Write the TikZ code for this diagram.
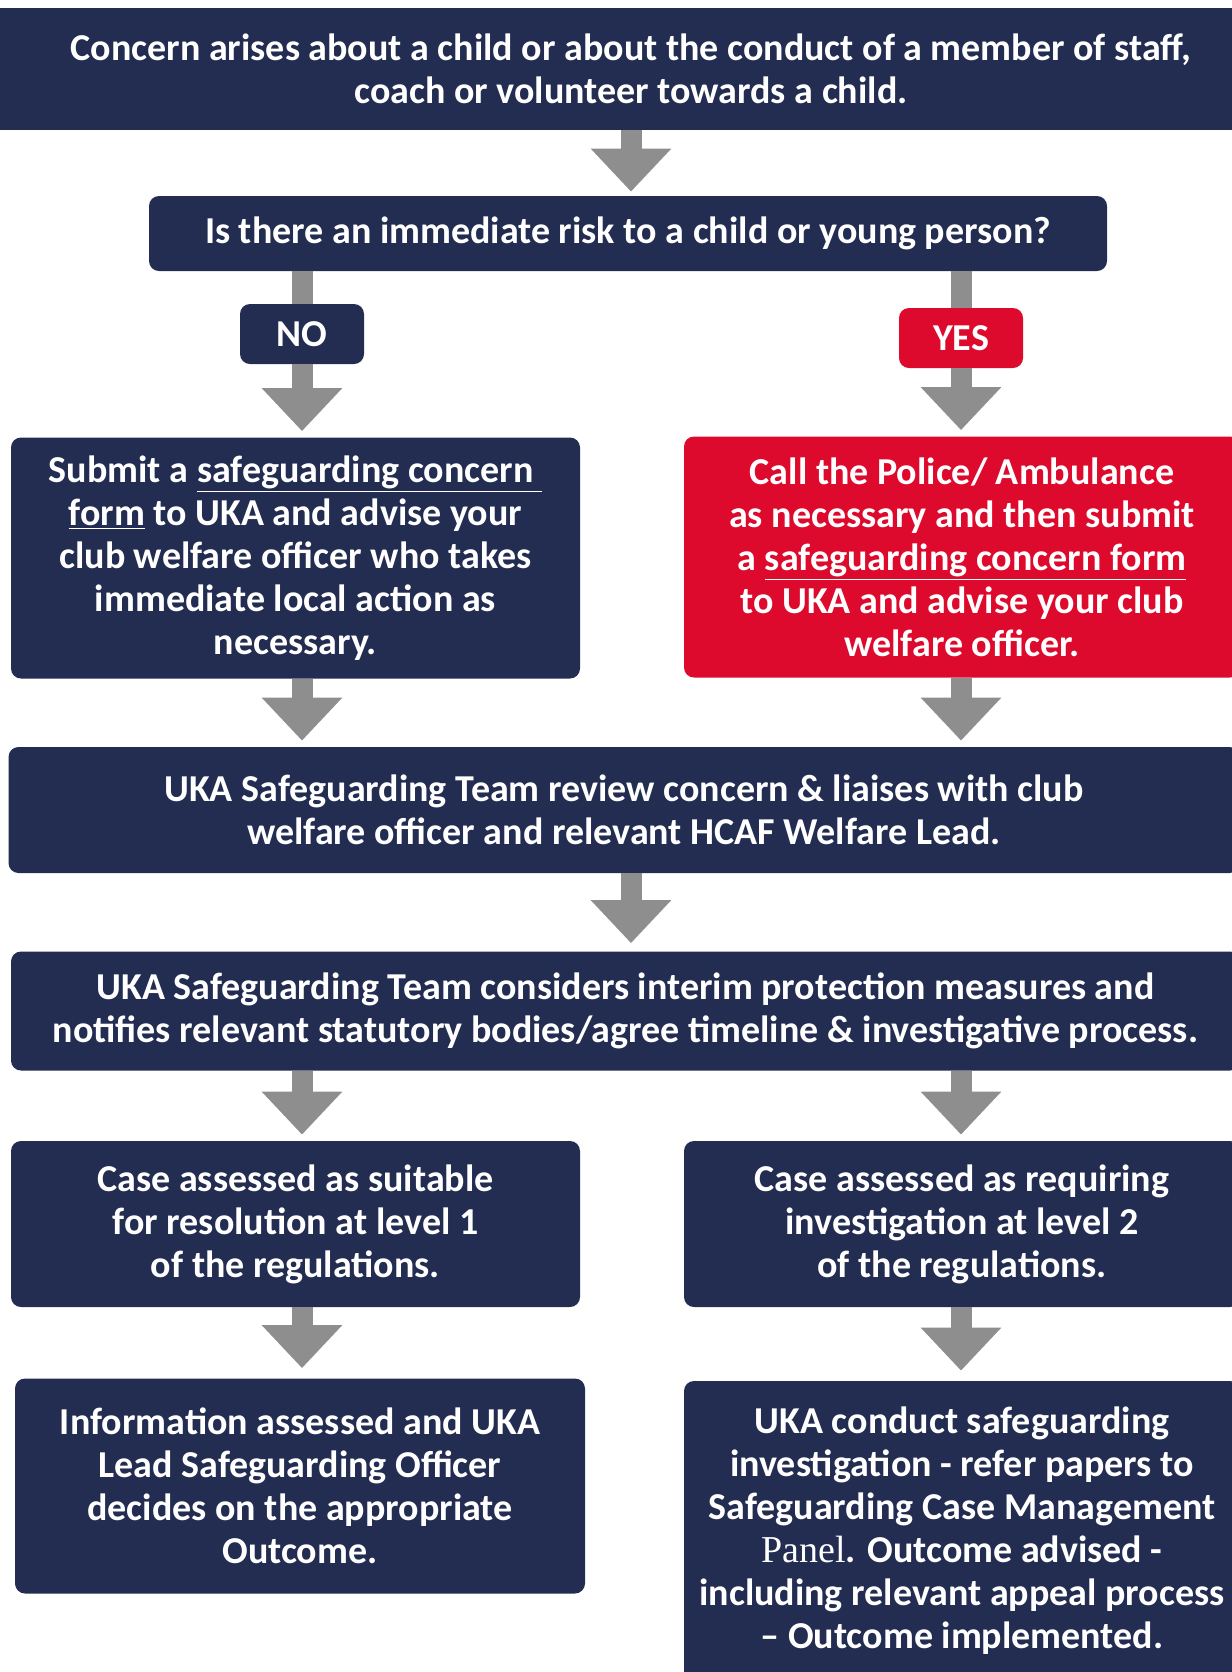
\documentclass[tikz,border=0pt]{standalone}
\usepackage{fontspec}
\setmainfont{Carlito}
\newfontfamily\pnlfont{Liberation Serif}
\usepackage{tikz}
\usetikzlibrary{arrows.meta}

\definecolor{ukanavy}{HTML}{232C51}
\definecolor{ukared}{HTML}{DD0A2D}
\definecolor{arrowgray}{HTML}{8E8E8E}

\begin{document}
\begin{tikzpicture}[x=0.5pt,y=-0.5pt]
            \tikzstyle{every node}+=[inner sep=0pt]
            \tikzstyle{box}=[fill=ukanavy, text=white, rounded corners=5pt, align=center,
                font=\fontsize{19pt}{21.5pt}\selectfont\bfseries]
            \tikzstyle{redbox}=[box, fill=ukared]
            \tikzstyle{shaft}=[draw=arrowgray, line width=10.5pt]
            \tikzstyle{flow}=[shaft, -{Triangle[length=21.5pt,width=39pt]}, shorten >=3pt]
            \useasboundingbox (0,0) rectangle (1232,1672);
            % boxes
            \node [box, sharp corners, minimum width=650pt, minimum height=60.75pt] (top) at (631,69)
                {Concern arises about a child or about the conduct of a member of staff,\\
                 coach or volunteer towards a child.};
            \node [box, minimum width=479pt, minimum height=37.5pt] (q) at (628,233.5)
                {Is there an immediate risk to a child or young person?};
            \node [box, minimum width=62pt, minimum height=30pt] (nolab) at (302,334) {NO};
            \node [redbox, minimum width=62pt, minimum height=30pt] (yeslab) at (961,338) {YES};
            \node [box, minimum width=284.5pt, minimum height=120.5pt] (noact) at (295.5,558)
                {Submit a \underline{safeguarding concern\ }\\
                 \underline{form} to UKA and advise your\\
                 club welfare officer who takes\\
                 immediate local action as\\
                 necessary.};
            \node [redbox, minimum width=278pt, minimum height=120.5pt] (yesact) at (962,557)
                {Call the Police/ Ambulance\\
                 as necessary and then submit\\
                 a \underline{safeguarding concern form}\\
                 to UKA and advise your club\\
                 welfare officer.};
            \node [box, minimum width=615.5pt, minimum height=63pt] (review) at (624,810)
                {UKA Safeguarding Team review concern \& liaises with club\\
                 welfare officer and relevant HCAF Welfare Lead.};
            \node [box, minimum width=614.5pt, minimum height=59.5pt] (consider) at (625.5,1011)
                {UKA Safeguarding Team considers interim protection measures and\\
                 notifies relevant statutory bodies/agree timeline \& investigative process.};
            \node [box, minimum width=284.5pt, minimum height=83pt] (lvl1) at (295.5,1224)
                {Case assessed as suitable\\
                 for resolution at level 1\\
                 of the regulations.};
            \node [box, minimum width=278pt, minimum height=83pt] (lvl2) at (962,1224)
                {Case assessed as requiring\\
                 investigation at level 2\\
                 of the regulations.};
            \node [box, minimum width=285pt, minimum height=107.5pt] (info) at (300,1486)
                {Information assessed and UKA\\
                 Lead Safeguarding Officer\\
                 decides on the appropriate\\
                 Outcome.};
            \node [box, minimum width=278pt, minimum height=150pt] (conduct) at (962,1531)
                {UKA conduct safeguarding\\
                 investigation - refer papers to\\
                 Safeguarding Case Management\\
                 {\pnlfont\mdseries Panel}. Outcome advised -\\
                 including relevant appeal process\\
                 -- Outcome implemented.};
            % arrows
            \draw [flow, shorten >=2pt] (top.south) -- (top.south |- q.north);
            \draw [shaft] (q.south -| nolab) -- (nolab.north);
            \draw [shaft] (q.south -| yeslab) -- (yeslab.north);
            \draw [flow] (nolab.south) -- (nolab.south |- noact.north);
            \draw [flow] (yeslab.south) -- (yeslab.south |- yesact.north);
            \draw [flow] (noact.south -| nolab) -- (nolab |- review.north);
            \draw [flow] (yesact.south -| yeslab) -- (yeslab |- review.north);
            \draw [flow, shorten >=4pt] (top |- review.south) -- (top |- consider.north);
            \draw [flow] (consider.south -| nolab) -- (nolab |- lvl1.north);
            \draw [flow] (consider.south -| yeslab) -- (yeslab |- lvl2.north);
            \draw [flow, shorten >=5pt] (lvl1.south -| nolab) -- (nolab |- info.north);
            \draw [flow, shorten >=5pt] (lvl2.south -| yeslab) -- (yeslab |- conduct.north);
        \end{tikzpicture}
\end{document}
